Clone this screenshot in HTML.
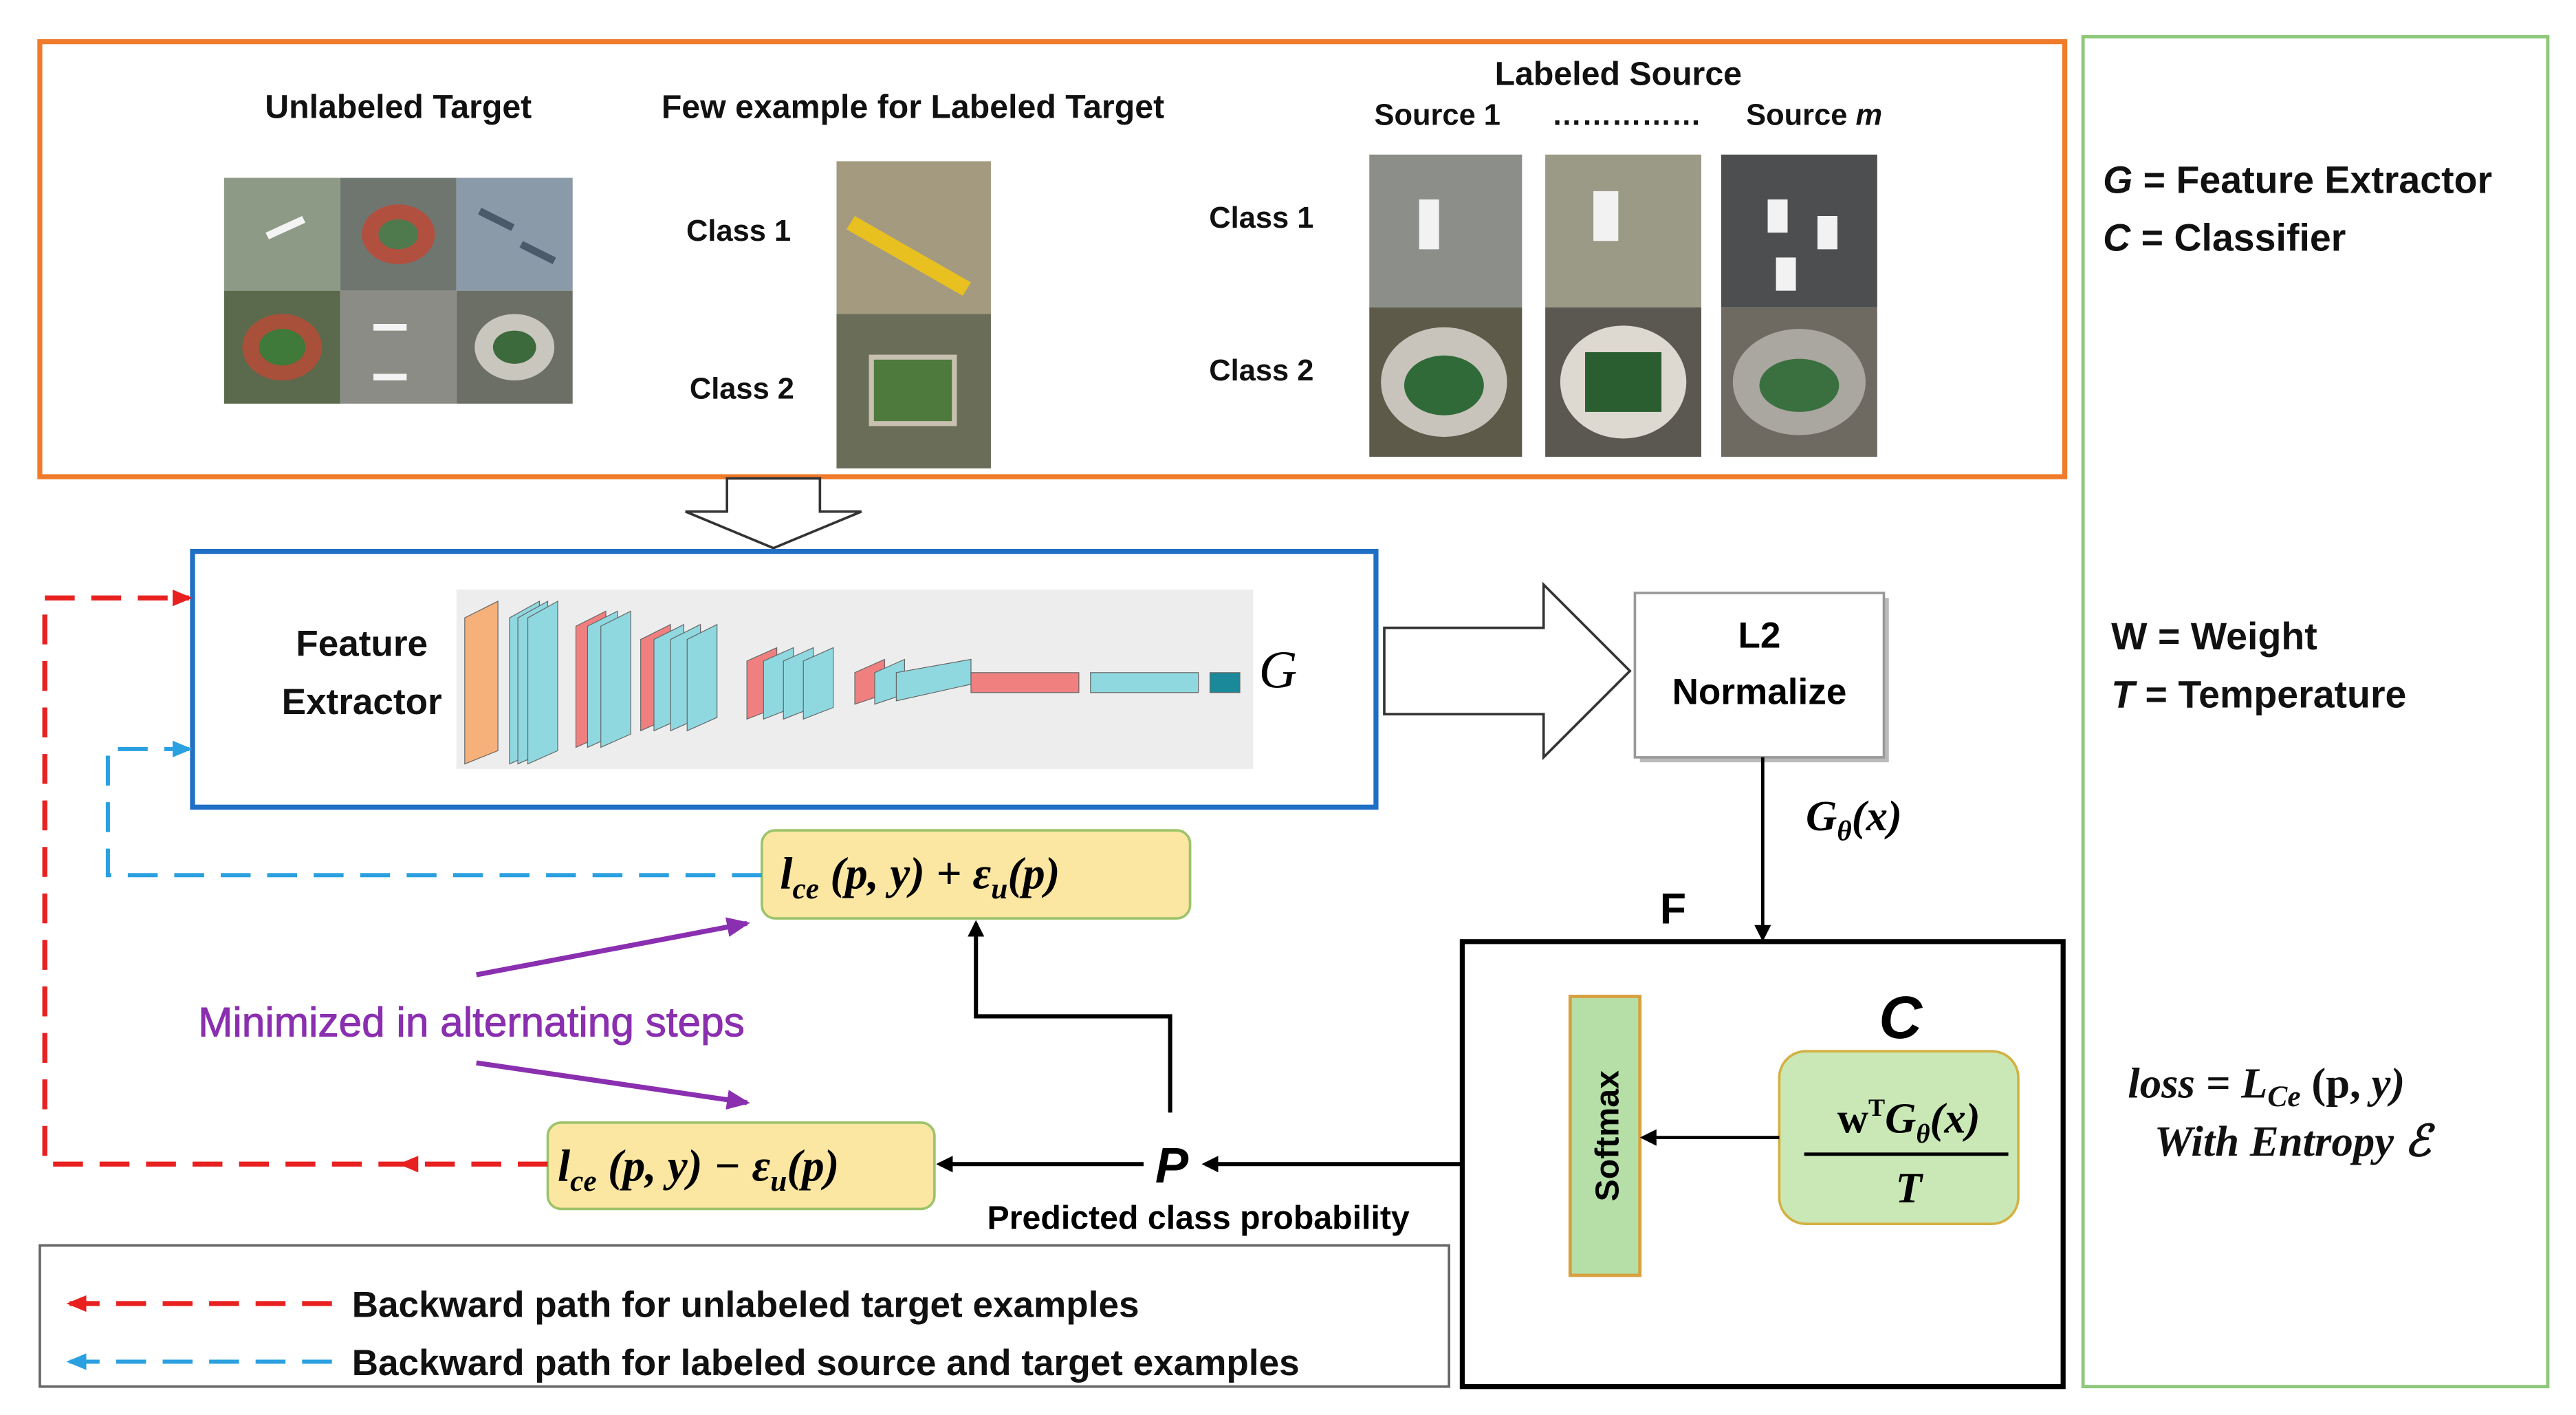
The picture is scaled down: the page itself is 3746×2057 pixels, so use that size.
<!DOCTYPE html>
<html><head><meta charset="utf-8"><style>
html,body{margin:0;padding:0;background:#fff;}
svg{display:block;}
.s{font-family:"Liberation Sans",sans-serif;}
.m{font-family:"Liberation Serif",serif;}
</style></head><body>
<svg width="3746" height="2057" viewBox="0 0 1552 852" xmlns="http://www.w3.org/2000/svg">
<defs>
<marker id="ab" markerWidth="10" markerHeight="10" refX="8" refY="5" orient="auto" markerUnits="userSpaceOnUse"><path d="M0,0 L10,5 L0,10 z" fill="#000"/></marker>
<marker id="ar" markerWidth="12" markerHeight="12" refX="10" refY="6" orient="auto" markerUnits="userSpaceOnUse"><path d="M0,1 L12,6 L0,11 z" fill="#e82020"/></marker>
<marker id="abl" markerWidth="12" markerHeight="12" refX="10" refY="6" orient="auto" markerUnits="userSpaceOnUse"><path d="M0,1 L12,6 L0,11 z" fill="#2aa0e0"/></marker>
<marker id="ap" markerWidth="14" markerHeight="12" refX="12" refY="6" orient="auto" markerUnits="userSpaceOnUse"><path d="M0,0 L14,6 L0,12 z" fill="#8a2fb0"/></marker>
</defs>
<rect x="0" y="0" width="1552" height="852" fill="#fff"/>
<rect x="24" y="25" width="1220" height="262" fill="none" stroke="#f07b2a" stroke-width="3"/>
<rect x="1255" y="22" width="280" height="813" fill="none" stroke="#8fc87a" stroke-width="2"/>
<g class="s" font-weight="bold" font-size="20" text-anchor="middle" fill="#111">
<text x="240" y="71">Unlabeled Target</text>
<text x="550" y="71">Few example for Labeled Target</text>
<text x="975" y="51">Labeled Source</text>
<text x="866" y="75" font-size="18">Source 1</text>
<text x="980" y="75" font-size="18">……………</text>
<text x="1093" y="75" font-size="18">Source <tspan font-style="italic">m</tspan></text>
<text x="445" y="145" font-size="18">Class 1</text>
<text x="447" y="240" font-size="18">Class 2</text>
<text x="760" y="137" font-size="18">Class 1</text>
<text x="760" y="229" font-size="18">Class 2</text>
</g>
<rect x="135" y="107" width="70" height="68" fill="#8d9a86"/>
<rect x="205" y="107" width="70" height="68" fill="#6f7670"/>
<ellipse cx="240" cy="141" rx="22" ry="18" fill="#b25040"/><ellipse cx="240" cy="141" rx="12" ry="9" fill="#4e7a4e"/>
<rect x="275" y="107" width="70" height="68" fill="#8a9aa8"/>
<rect x="135" y="175" width="70" height="68" fill="#5b6a4c"/>
<ellipse cx="170" cy="209" rx="24" ry="20" fill="#a8503a"/><ellipse cx="170" cy="209" rx="14" ry="11" fill="#3f7a3a"/>
<rect x="205" y="175" width="70" height="68" fill="#8c8c86"/>
<rect x="275" y="175" width="70" height="68" fill="#6c6f66"/>
<ellipse cx="310" cy="209" rx="24" ry="20" fill="#c9c6be"/><ellipse cx="310" cy="209" rx="13" ry="10" fill="#3c6a3c"/>
<g fill="#f4f4f4"><path d="M160,140 l22,-10 l2,4 l-22,10z"/><path d="M225,195 l20,0 l0,4 l-20,0z"/><path d="M225,225 l20,0 l0,4 l-20,0z"/></g>
<g fill="#4a5a6a"><path d="M290,125 l20,10 l-2,4 l-20,-10z"/><path d="M315,145 l20,10 l-2,4 l-20,-10z"/></g>
<rect x="504" y="97" width="93" height="92" fill="#a49a80"/>
<path d="M515,130 L585,170 L580,178 L510,138z" fill="#e8c020"/>
<rect x="504" y="189" width="93" height="93" fill="#6a6e58"/>
<rect x="525" y="215" width="50" height="40" fill="#4f7a3e" stroke="#c8c0b0" stroke-width="3"/>
<rect x="825" y="93" width="92" height="92" fill="#8c8e8a"/>
<rect x="931" y="93" width="94" height="92" fill="#9a9a86"/>
<rect x="1037" y="93" width="94" height="92" fill="#4c4e50"/>
<rect x="825" y="185" width="92" height="90" fill="#5e5a4a"/>
<rect x="931" y="185" width="94" height="90" fill="#5a5850"/>
<rect x="1037" y="185" width="94" height="90" fill="#6e6a62"/>
<g fill="#f2f2f2"><path d="M855,120 l12,0 l0,30 l-12,0z"/><path d="M960,115 l15,0 l0,30 l-15,0z"/><path d="M1065,120 l12,0 l0,20 l-12,0z"/><path d="M1095,130 l12,0 l0,20 l-12,0z"/><path d="M1070,155 l12,0 l0,20 l-12,0z"/></g>
<ellipse cx="870" cy="230" rx="38" ry="33" fill="#c8c4bc"/><ellipse cx="870" cy="232" rx="24" ry="18" fill="#2f6a38"/>
<ellipse cx="978" cy="230" rx="38" ry="34" fill="#ddd8d0"/><rect x="955" y="212" width="46" height="36" fill="#2a5e30"/>
<ellipse cx="1084" cy="230" rx="40" ry="32" fill="#aaa6a0"/><ellipse cx="1084" cy="232" rx="24" ry="16" fill="#3a7040"/>
<path d="M438,288 L494,288 L494,308 L519,308 L466,330 L413,308 L438,308 Z" fill="#fff" stroke="#333" stroke-width="1.5"/>
<rect x="116" y="332" width="713" height="154" fill="none" stroke="#1f6fc4" stroke-width="3"/>
<g class="s" font-size="22" font-weight="bold" text-anchor="middle" fill="#111"><text x="218" y="395">Feature</text><text x="218" y="430">Extractor</text></g>
<rect x="275" y="355" width="480" height="108" fill="#ededed"/>
<g stroke="#666" stroke-width="0.5">
<path d="M280,372 L300,362 L300,452 L280,460Z" fill="#f6b07a"/>
<path d="M307,372 L325,362 L325,452 L307,460Z" fill="#8fd8e0"/>
<path d="M312,372 L330,362 L330,452 L312,460Z" fill="#8fd8e0"/>
<path d="M318,372 L336,362 L336,452 L318,460Z" fill="#8fd8e0"/>
<path d="M347,377 L365,368 L365,442 L347,450Z" fill="#f08080"/>
<path d="M354,377 L372,368 L372,442 L354,450Z" fill="#8fd8e0"/>
<path d="M362,377 L380,368 L380,442 L362,450Z" fill="#8fd8e0"/>
<path d="M386,385 L404,376 L404,432 L386,440Z" fill="#f08080"/>
<path d="M394,385 L412,376 L412,432 L394,440Z" fill="#8fd8e0"/>
<path d="M404,385 L422,376 L422,432 L404,440Z" fill="#8fd8e0"/>
<path d="M414,385 L432,376 L432,432 L414,440Z" fill="#8fd8e0"/>
<path d="M450,398 L468,390 L468,426 L450,433Z" fill="#f08080"/>
<path d="M460,398 L478,390 L478,426 L460,433Z" fill="#8fd8e0"/>
<path d="M472,398 L490,390 L490,426 L472,433Z" fill="#8fd8e0"/>
<path d="M484,398 L502,390 L502,426 L484,433Z" fill="#8fd8e0"/>
<path d="M515,405 L533,397 L533,418 L515,424Z" fill="#f08080"/>
<path d="M527,405 L545,397 L545,418 L527,424Z" fill="#8fd8e0"/>
<path d="M540,405 L585,397 L585,412 L540,422Z" fill="#8fd8e0"/>
<rect x="585" y="405" width="65" height="12" fill="#f08080"/>
<rect x="657" y="405" width="65" height="12" fill="#8fd8e0"/>
<rect x="729" y="405" width="18" height="12" fill="#1a8a9a"/>
</g>
<text x="770" y="414" class="m" font-style="italic" font-size="32" text-anchor="middle">G</text>
<path d="M834,378 L930,378 L930,352 L982,404 L930,456 L930,430 L834,430 Z" fill="#fff" stroke="#333" stroke-width="1.5"/>
<rect x="988" y="360" width="150" height="99" fill="#bbb"/>
<rect x="985" y="357" width="150" height="99" fill="#fff" stroke="#999" stroke-width="1.5"/>
<g class="s" font-size="22" font-weight="bold" text-anchor="middle"><text x="1060" y="390">L2</text><text x="1060" y="424">Normalize</text></g>
<line x1="1062" y1="456" x2="1062" y2="565" stroke="#000" stroke-width="2" marker-end="url(#ab)"/>
<text x="1088" y="500" class="m" font-size="26" font-weight="bold" font-style="italic">G<tspan font-size="17" dy="6">θ</tspan><tspan dy="-6">(x)</tspan></text>
<text x="1008" y="556" class="s" font-weight="bold" font-size="26" text-anchor="middle">F</text>
<rect x="881" y="567" width="362" height="268" fill="none" stroke="#000" stroke-width="3"/>
<text x="1145" y="625" class="s" font-weight="bold" font-style="italic" font-size="36" text-anchor="middle">C</text>
<rect x="1072" y="633" width="144" height="104" rx="16" fill="#c9e8b5" stroke="#d4b040" stroke-width="1.5"/>
<text x="1150" y="682" class="m" font-size="26" font-weight="bold" text-anchor="middle">w<tspan font-size="15" dy="-10">T</tspan><tspan dy="10" font-style="italic">G</tspan><tspan font-size="16" dy="6" font-style="italic">θ</tspan><tspan dy="-6" font-style="italic">(x)</tspan></text>
<line x1="1087" y1="695" x2="1210" y2="695" stroke="#000" stroke-width="2"/>
<text x="1150" y="724" class="m" font-size="26" font-weight="bold" font-style="italic" text-anchor="middle">T</text>
<rect x="946" y="600" width="42" height="168" fill="#b5dfa7" stroke="#d8a040" stroke-width="2"/>
<text transform="translate(975,684) rotate(-90)" class="s" font-weight="bold" font-size="20" text-anchor="middle">Softmax</text>
<line x1="1072" y1="685" x2="990" y2="685" stroke="#000" stroke-width="2" marker-end="url(#ab)"/>
<line x1="881" y1="701" x2="726" y2="701" stroke="#000" stroke-width="2.5" marker-end="url(#ab)"/>
<text x="706" y="712" class="s" font-weight="bold" font-style="italic" font-size="30" text-anchor="middle">P</text>
<line x1="689" y1="701" x2="566" y2="701" stroke="#000" stroke-width="2.5" marker-end="url(#ab)"/>
<text x="722" y="740" class="s" font-weight="bold" font-size="20" text-anchor="middle">Predicted  class probability</text>
<path d="M705,670 L705,612 L588,612 L588,556" fill="none" stroke="#000" stroke-width="2.5" marker-end="url(#ab)"/>
<rect x="459" y="500" width="258" height="53" rx="8" fill="#fbe6a2" stroke="#9cc36a" stroke-width="1.5"/>
<text x="470" y="535" class="m" font-size="27" font-weight="bold" font-style="italic">l<tspan font-size="18" dy="6">ce</tspan><tspan dy="-6"> (p, y)  +  ε</tspan><tspan font-size="18" dy="6">u</tspan><tspan dy="-6">(p)</tspan></text>
<rect x="330" y="676" width="233" height="52" rx="8" fill="#fbe6a2" stroke="#9cc36a" stroke-width="1.5"/>
<text x="336" y="711" class="m" font-size="27" font-weight="bold" font-style="italic">l<tspan font-size="18" dy="6">ce</tspan><tspan dy="-6"> (p, y) −  ε</tspan><tspan font-size="18" dy="6">u</tspan><tspan dy="-6">(p)</tspan></text>
<text x="284" y="624" class="s" font-size="25" fill="#8a2fb0" text-anchor="middle" stroke="#8a2fb0" stroke-width="0.4">Minimized in alternating steps</text>
<line x1="287" y1="587" x2="450" y2="556" stroke="#8a2fb0" stroke-width="3" marker-end="url(#ap)"/>
<line x1="287" y1="640" x2="450" y2="664" stroke="#8a2fb0" stroke-width="3" marker-end="url(#ap)"/>
<path d="M330,701 L27,701 L27,360 L114,360" fill="none" stroke="#e82020" stroke-width="3" stroke-dasharray="18,10" marker-end="url(#ar)"/>
<path d="M252,696 L240,701 L252,706z" fill="#e82020"/>
<path d="M459,527 L65,527 L65,451 L114,451" fill="none" stroke="#2aa0e0" stroke-width="2.5" stroke-dasharray="18,10" marker-end="url(#abl)"/>
<rect x="24" y="750" width="849" height="85" fill="none" stroke="#666" stroke-width="1.5"/>
<line x1="200" y1="785" x2="42" y2="785" stroke="#e82020" stroke-width="3" stroke-dasharray="18,10" marker-end="url(#ar)"/>
<line x1="200" y1="820" x2="42" y2="820" stroke="#2aa0e0" stroke-width="2.5" stroke-dasharray="18,10" marker-end="url(#abl)"/>
<g class="s" font-size="22" font-weight="bold" fill="#111"><text x="212" y="793">Backward path for unlabeled target examples</text><text x="212" y="828">Backward path for labeled source and target examples</text></g>
<g class="s" font-size="23" font-weight="bold" fill="#111">
<text x="1267" y="116"><tspan font-style="italic">G</tspan> = Feature Extractor</text>
<text x="1267" y="151"><tspan font-style="italic">C</tspan> = Classifier</text>
<text x="1272" y="391">W = Weight</text>
<text x="1272" y="426"><tspan font-style="italic">T</tspan> = Temperature</text>
</g>
<g class="m" font-size="26" font-style="italic" font-weight="bold" fill="#111">
<text x="1282" y="661">loss = L<tspan font-size="18" dy="5">Ce</tspan><tspan dy="-5" font-style="normal"> (p, </tspan>y)</text>
<text x="1298" y="696">With Entropy ℰ</text>
</g>
</svg>
</body></html>
